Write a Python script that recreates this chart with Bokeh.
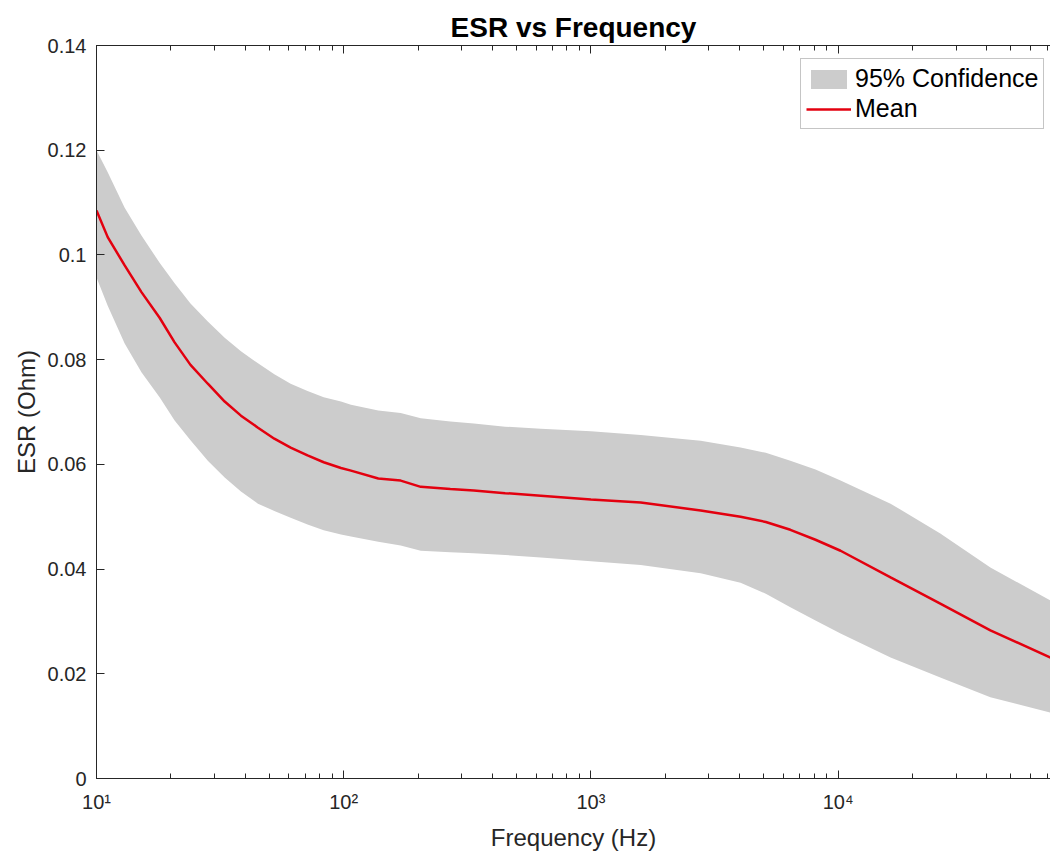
from bokeh.plotting import figure
from bokeh.models import (LogAxis, LogTicker, FixedTicker, CustomJSTickFormatter,
                          Range1d, Legend)
from bokeh.embed import file_html
from bokeh.resources import INLINE

# ---- data ----
freq_hz = [10, 11.1, 13, 15.2, 18, 20.7, 24, 28.2, 33, 38.4, 45, 52.4, 61, 71.4,
           83, 97.5, 107, 138, 170, 205, 270, 336, 450, 627, 1000, 1590, 2780,
           4030, 5100, 6410, 8100, 10230, 16300, 25900, 41300, 72300]
esr_mean = [0.1085, 0.1034, 0.0980, 0.0929, 0.0880, 0.0833, 0.0790, 0.0754,
            0.0720, 0.0693, 0.0670, 0.0649, 0.0632, 0.0617, 0.0604, 0.0593,
            0.0588, 0.0573, 0.0569, 0.0557, 0.0553, 0.0550, 0.0545, 0.0540,
            0.0533, 0.0527, 0.0512, 0.0500, 0.0490, 0.0475, 0.0456, 0.0435,
            0.0384, 0.0334, 0.0283, 0.0231]
esr_upper = [0.1200, 0.1158, 0.1090, 0.1037, 0.0985, 0.0946, 0.0907, 0.0873,
             0.0842, 0.0816, 0.0793, 0.0772, 0.0754, 0.0740, 0.0728, 0.0720,
             0.0714, 0.0703, 0.0698, 0.0688, 0.0682, 0.0678, 0.0672, 0.0668,
             0.0663, 0.0656, 0.0645, 0.0632, 0.0622, 0.0607, 0.0590, 0.0569,
             0.0525, 0.0468, 0.0403, 0.0340]
esr_lower = [0.0957, 0.0903, 0.0831, 0.0776, 0.0728, 0.0684, 0.0646, 0.0607,
             0.0575, 0.0548, 0.0525, 0.0511, 0.0498, 0.0485, 0.0474, 0.0466,
             0.0462, 0.0452, 0.0445, 0.0435, 0.0432, 0.0430, 0.0427, 0.0422,
             0.0415, 0.0408, 0.0392, 0.0374, 0.0353, 0.0327, 0.0302, 0.0277,
             0.0231, 0.0193, 0.0155, 0.0126]
y_ticks = [0, 0.02, 0.04, 0.06, 0.08, 0.10, 0.12, 0.14]

FONT = "Liberation Sans"
AX = "#262626"

p = figure(width=1050, height=854, x_axis_type="log",
           x_range=Range1d(10, 72300), y_range=Range1d(0, 0.14),
           output_backend="svg", toolbar_location=None,
           min_border_left=96, min_border_right=0, min_border_top=45,
           min_border_bottom=76, background_fill_color="white",
           border_fill_color="white")
p.outline_line_color = None
p.xgrid.grid_line_color = None
p.ygrid.grid_line_color = None

band = p.varea(x=freq_hz, y1=esr_lower, y2=esr_upper, fill_color="#cccccc")
mean = p.line(x=freq_hz, y=esr_mean, line_color="#e3000f", line_width=2.5)

# title
p.title.text = "ESR vs Frequency"
p.title.align = "center"
p.title.text_font = FONT
p.title.text_font_size = "28px"
p.title.text_font_style = "bold"
p.title.text_color = "black"
p.title.standoff = 6

sup_fmt = CustomJSTickFormatter(code="""
const sup = {'0':'\u2070','1':'\u00b9','2':'\u00b2','3':'\u00b3','4':'\u2074',
             '5':'\u2075','6':'\u2076','7':'\u2077','8':'\u2078','9':'\u2079','-':'\u207b'};
const e = Math.round(Math.log10(tick));
return '10' + String(e).split('').map(c => sup[c]).join('');
""")

xa = p.xaxis[0]
xa.ticker = LogTicker(mantissas=[1], num_minor_ticks=10)
xa.formatter = sup_fmt
xa.axis_label = "Frequency (Hz)"
ya = p.yaxis[0]
ya.ticker = FixedTicker(ticks=y_ticks)
ya.formatter = CustomJSTickFormatter(code="return String(+tick.toFixed(2));")
ya.axis_label = "ESR (Ohm)"

for ax in (xa, ya):
    ax.axis_line_color = AX
    ax.major_tick_line_color = AX
    ax.minor_tick_line_color = AX
    ax.major_tick_in = 8
    ax.major_tick_out = 0
    ax.minor_tick_in = 5
    ax.minor_tick_out = 0
    ax.major_label_text_font = FONT
    ax.major_label_text_color = AX
    ax.axis_label_text_font = FONT
    ax.axis_label_text_font_size = "24px"
    ax.axis_label_text_font_style = "normal"
    ax.axis_label_text_color = AX
xa.major_label_text_font_size = "20px"
ya.major_label_text_font_size = "20px"
ya.minor_tick_line_color = None
ya.major_label_standoff = 10
xa.major_label_standoff = 12
xa.axis_label_standoff = 8
ya.axis_label_standoff = 5

top = LogAxis(ticker=LogTicker(mantissas=[1], num_minor_ticks=10),
              formatter=CustomJSTickFormatter(code="return '';"),
              axis_line_color=AX, major_tick_line_color=AX, minor_tick_line_color=AX,
              major_tick_in=8, major_tick_out=0, minor_tick_in=5, minor_tick_out=0,
              major_label_standoff=0)
p.add_layout(top, "above")

legend = Legend(items=[("95% Confidence", [band]), ("Mean", [mean])],
                location=(704, 649))
legend.label_text_font = FONT
legend.label_text_font_size = "25px"
legend.label_text_color = "black"
legend.border_line_color = "#8c8c8c"
legend.border_line_width = 1
legend.background_fill_color = "white"
legend.background_fill_alpha = 1
legend.glyph_width = 45
legend.glyph_height = 24
legend.label_height = 24
legend.spacing = 1
legend.padding = 5
legend.margin = 0
legend.label_standoff = 4
p.add_layout(legend)

open("out.html", "w").write(file_html(p, INLINE))
